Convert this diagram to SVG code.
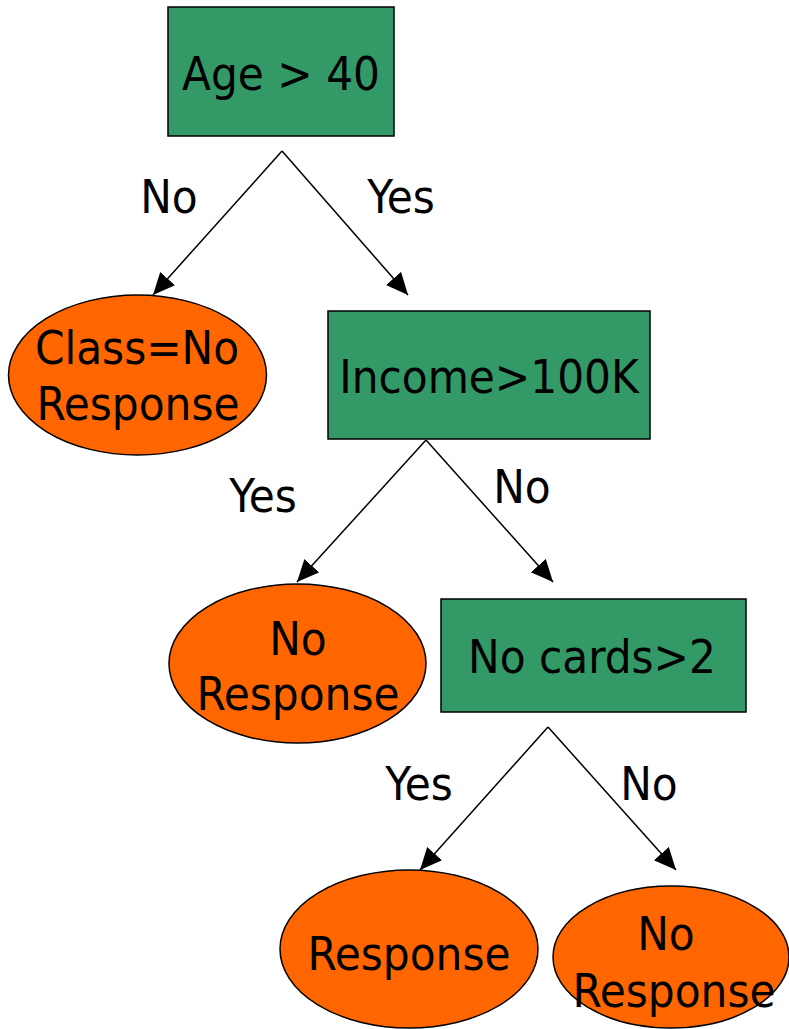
<svg xmlns="http://www.w3.org/2000/svg" width="789" height="1029" viewBox="0 0 789 1029">
<style>
.box{fill:#339966;stroke:#000;stroke-width:1.5}
.leaf{fill:#FF6600;stroke:#000;stroke-width:1.5}
text{font-family:"DejaVu Sans Condensed","DejaVu Sans",sans-serif;font-stretch:condensed;font-size:47px;fill:#000;text-anchor:middle}
.edge{stroke:#000;stroke-width:1.5;fill:none;marker-end:url(#arr)}
</style>
<defs>
<marker id="arr" markerUnits="userSpaceOnUse" markerWidth="24" markerHeight="22" refX="22" refY="10" orient="auto">
<path d="M0,0 L22,10 L0,20 Z" fill="#000"/>
</marker>
</defs>
<rect width="789" height="1029" fill="#fff"/>
<g id="connectors">
<line class="edge" x1="282" y1="151" x2="153" y2="295"/>
<line class="edge" x1="282" y1="151" x2="408" y2="295"/>
<line class="edge" x1="426" y1="440" x2="297" y2="582"/>
<line class="edge" x1="426" y1="440" x2="553" y2="582"/>
<line class="edge" x1="548" y1="727" x2="420" y2="870"/>
<line class="edge" x1="548" y1="727" x2="676" y2="870"/>
<text x="169" y="213">No</text>
<text x="401" y="213">Yes</text>
<text x="263" y="512">Yes</text>
<text x="522" y="503">No</text>
<text x="419" y="800">Yes</text>
<text x="649" y="800">No</text>
</g>
<g id="age">
<rect class="box" x="168" y="7" width="226" height="129"/>
<text x="281" y="90">Age &gt; 40</text>
</g>
<g id="class-no-response">
<ellipse class="leaf" cx="137.5" cy="375" rx="129" ry="80"/>
<text x="137" y="364">Class=No</text>
<text x="138" y="420">Response</text>
</g>
<g id="income">
<rect class="box" x="328" y="311" width="322" height="128"/>
<text x="489" y="393">Income&gt;100K</text>
</g>
<g id="no-response-1">
<ellipse class="leaf" cx="297.5" cy="663.5" rx="128.5" ry="79.5"/>
<text x="298" y="655">No</text>
<text x="298" y="710">Response</text>
</g>
<g id="cards">
<rect class="box" x="441" y="599" width="305" height="113"/>
<text x="592" y="673">No cards&gt;2</text>
</g>
<g id="response">
<ellipse class="leaf" cx="409" cy="949" rx="129" ry="79"/>
<text x="409" y="970">Response</text>
</g>
<g id="no-response-2">
<ellipse class="leaf" cx="671" cy="957" rx="118" ry="71"/>
<text x="666" y="950">No</text>
<text x="674" y="1007">Response</text>
</g>
</svg>
